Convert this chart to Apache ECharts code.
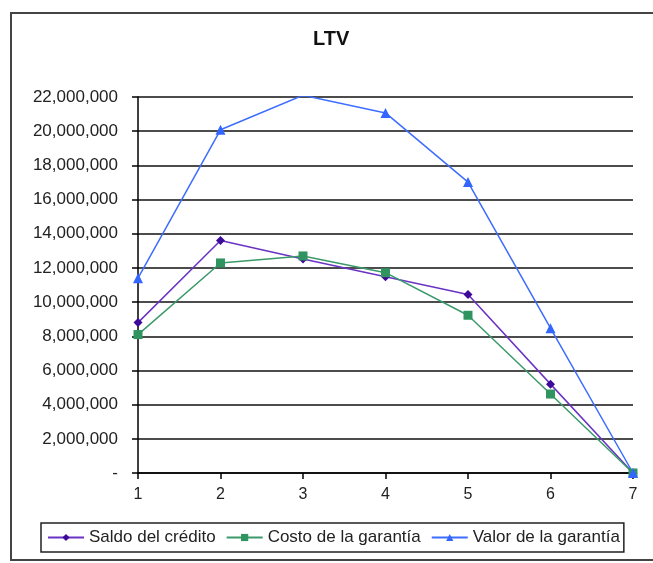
<!DOCTYPE html>
<html>
<head>
<meta charset="utf-8">
<script src="https://cdn.jsdelivr.net/npm/echarts@6/dist/echarts.min.js"></script>
<style>
  html, body { margin: 0; padding: 0; background: #fff; }
  #main { width: 653px; height: 563px; }
</style>
</head>
<body>
<div id="main"></div>
<script>
const periods = ['1', '2', '3', '4', '5', '6', '7']
const saldoCredito = [8800000, 13600000, 12520000, 11480000, 10440000, 5200000, 0]
const costoGarantia = [8100000, 12290000, 12700000, 11720000, 9230000, 4620000, 0]
const valorGarantia = [11400000, 20080000, 22100000, 21070000, 17020000, 8470000, 0]

const font = 'Liberation Sans, Arial, sans-serif'

function formatMoney(v) {
  if (v === 0) return '-'
  return String(v).replace(/\B(?=(\d{3})+(?!\d))/g, ',')
}

const chart = echarts.init(document.getElementById('main'))

chart.setOption({
  animation: false,
  textStyle: { fontFamily: font },
  title: {
    text: 'LTV',
    left: 313,
    top: 29,
    padding: 0,
    textStyle: { fontSize: 20, fontWeight: 'bold', color: '#111', fontFamily: font },
  },
  graphic: [{
    type: 'rect',
    shape: { x: 11, y: 13, width: 660, height: 547 },
    style: { fill: 'none', stroke: '#444', lineWidth: 2 },
    silent: true,
  }],
  grid: { left: 138, right: 20, top: 97, bottom: 90 },
  legend: {
    left: 41,
    top: 523,
    padding: [6, 4, 6, 6],
    borderColor: '#222',
    borderWidth: 1.5,
    itemGap: 10,
    itemWidth: 36,
    itemHeight: 9,
    textStyle: { fontSize: 17, color: '#222', fontFamily: font },
    data: ['Saldo del crédito', 'Costo de la garantía', 'Valor de la garantía'],
  },
  xAxis: {
    type: 'category',
    data: periods,
    boundaryGap: false,
    axisLine: { lineStyle: { color: '#000', width: 1.5 } },
    axisTick: { show: true, length: 6, lineStyle: { color: '#000', width: 1.5 } },
    axisLabel: { color: '#222', fontSize: 16, margin: 14 },
    splitLine: { show: false },
  },
  yAxis: {
    type: 'value',
    min: 0,
    max: 22000000,
    interval: 2000000,
    axisLine: { show: true, lineStyle: { color: '#000', width: 1.5 } },
    axisTick: { show: true, length: 6, lineStyle: { color: '#000', width: 1.5 } },
    axisLabel: { color: '#222', fontSize: 17, margin: 20, formatter: formatMoney },
    splitLine: { lineStyle: { color: '#111', width: 1.5 } },
  },
  series: [
    {
      name: 'Saldo del crédito',
      type: 'line',
      data: saldoCredito,
      symbol: 'diamond',
      symbolSize: 9,
      lineStyle: { color: '#6a33c4', width: 1.5 },
      itemStyle: { color: '#3d0a99' },
    },
    {
      name: 'Costo de la garantía',
      type: 'line',
      data: costoGarantia,
      symbol: 'rect',
      symbolSize: 9,
      lineStyle: { color: '#3a9a6a', width: 1.5 },
      itemStyle: { color: '#2f9460' },
    },
    {
      name: 'Valor de la garantía',
      type: 'line',
      data: valorGarantia,
      symbol: 'triangle',
      symbolSize: 10,
      lineStyle: { color: '#3d6dff', width: 1.5 },
      itemStyle: { color: '#3366ff' },
    },
  ],
})
</script>
</body>
</html>
